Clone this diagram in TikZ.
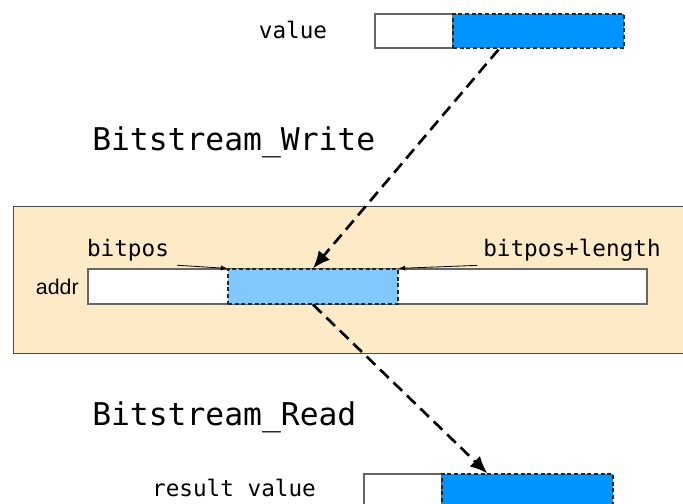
\documentclass[tikz,border=0pt]{standalone}
\usepackage{fontspec}
\setmainfont{Liberation Sans}
\setmonofont{DejaVu Sans Mono}
\usetikzlibrary{positioning,arrows.meta,calc}

\definecolor{bitblue}{RGB}{0,148,255}
\definecolor{lightbit}{RGB}{128,200,255}
\definecolor{panelbg}{RGB}{253,235,200}

\begin{document}
\begin{tikzpicture}[x=0.75pt,y=-0.75pt
		,seg/.style={draw=black!60, line width=.9pt, rectangle, inner sep=0pt, minimum height=25.5pt}
		,bits/.style={seg, draw=black!85, dash pattern=on 3pt off 2pt}
		,lbl/.style={font=\ttfamily\fontsize{17}{20}\selectfont, inner sep=0pt}
		,title/.style={font=\ttfamily\fontsize{23.5}{28}\selectfont, inner sep=0pt, anchor=west}
		,move/.style={line width=2pt, dash pattern=on 9pt off 5pt, -{Latex[length=13pt,width=11pt]}}
		,point/.style={line width=.6pt, -{Latex[length=5pt,width=4pt]}}
	]
		\clip (0,0) rectangle (683,504);

		% value to be written
		\node[seg, fill=white, minimum width=58.5pt] (vw) at (414,31) {};
		\node[bits, fill=bitblue, minimum width=128.25pt] (vb) at (538.5,31) {};
		\node[lbl] (val) at (293,30) {value};

		\node[title] (write) at (92,142) {Bitstream\_Write};

		% memory at addr
		\node[draw=black!70, line width=.7pt, fill=panelbg, rectangle, inner sep=0pt,
			minimum width=518.25pt, minimum height=110.25pt] (panel) at (358.5,279.5) {};
		\node[seg, fill=white, minimum width=419.25pt, minimum height=26.25pt] (aw) at (367.5,286.5) {};
		\node[bits, fill=lightbit, minimum width=127.5pt, minimum height=26.25pt] (ab) at (313,286.5) {};
		\node[font=\fontsize{16}{19}\selectfont, left=3pt of aw] (addr) {addr};
		\node[lbl] (bp) at (128,250) {bitpos};
		\node[lbl] (bpl) at (572,250) {bitpos+length};

		\draw[point] ($(bp.south east)+(8,4)$) -- (ab.north west);
		\draw[point] ($(bpl.south west)+(-6,4)$) -- (ab.north east);

		\node[title] (read) at (92,417) {Bitstream\_Read};

		% value that is read back
		\node[seg, fill=white, minimum width=58.5pt] (rw) at (403,491) {};
		\node[bits, fill=bitblue, minimum width=128.25pt] (rb) at (527.5,491) {};
		\node[lbl] (res) at (234,488) {result value};

		\coordinate (src) at ($(vb.south)+(-40,1)$);
		\coordinate (dst) at ($(rb.north west)+(46,0)$);
		\draw[move] (src) -- (ab.north);
		\draw[move] (ab.south) -- (dst);
	\end{tikzpicture}
\end{document}
